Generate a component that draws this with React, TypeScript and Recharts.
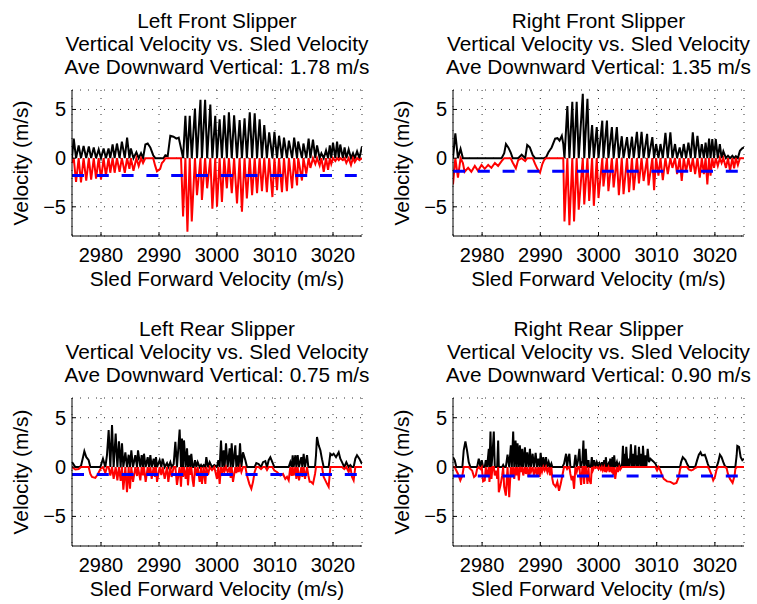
import React from 'react';
import { LineChart, Line, XAxis, YAxis, CartesianGrid, ReferenceLine } from 'recharts';

const FONT = '"Liberation Sans", Arial, Helvetica, sans-serif';
const LABEL_SIZE = 20.8;
const TICK_SIZE = 20;

// Axis ticks shared by all four slipper panels
const speedTicks = [2980, 2990, 3000, 3010, 3020];
const velocityTicks = [-5, 0, 5];
const speedDomain: [number, number] = [2975, 3025];
const velocityDomain: [number, number] = [-8, 7];

// ---- Left front slipper ----
const leftFrontAve = 1.78;
const leftFrontSpeed = [
  2975.0, 2975.3, 2975.7, 2976.15, 2976.55, 2977.0, 2977.45, 2977.9, 2978.3, 2978.75,
  2979.15, 2979.6, 2980.0, 2980.45, 2980.85, 2981.3, 2981.6, 2982.0, 2982.35, 2982.75,
  2983.2, 2983.6, 2984.1, 2984.5, 2984.9, 2985.15, 2985.6, 2986.1, 2986.5, 2986.9,
  2987.25, 2987.65, 2988.05, 2988.5, 2989.0, 2989.35, 2989.65, 2990.2, 2990.5, 2990.8,
  2991.1, 2991.5, 2991.95, 2992.5, 2993.0, 2993.4, 2993.8, 2994.15, 2994.55, 2994.9,
  2995.3, 2995.65, 2996.2, 2996.55, 2997.15, 2997.4, 2997.95, 2998.3, 2998.85, 2999.2,
  2999.7, 3000.0, 3000.45, 3000.85, 3001.25, 3001.7, 3002.05, 3002.55, 3002.95, 3003.45,
  3003.9, 3004.3, 3004.75, 3005.15, 3005.65, 3006.05, 3006.5, 3006.9, 3007.35, 3007.75,
  3008.15, 3008.6, 3009.0, 3009.55, 3009.9, 3010.35, 3010.7, 3011.2, 3011.55, 3012.05,
  3012.4, 3012.95, 3013.3, 3013.8, 3014.0, 3014.65, 3014.9, 3015.4, 3015.8, 3016.1,
  3016.55, 3016.95, 3017.25, 3017.7, 3018.0, 3018.4, 3018.8, 3019.15, 3019.45, 3019.7,
  3020.0, 3020.4, 3020.7, 3021.0, 3021.25, 3021.7, 3022.0, 3022.3, 3022.7, 3023.1,
  3023.45, 3023.75, 3024.15, 3024.55, 3025.0,
];
const leftFrontVertical = [
  -0.5, 2.0, -2.45, 1.3, -2.5, 1.25, -2.3, 1.2, -2.2, 1.1,
  -2.1, 0.9, -2.2, 1.0, -1.8, 1.0, -1.5, 1.4, -1.5, 1.5,
  -1.4, 1.7, -1.5, 2.1, -1.1, 1.0, -1.3, 0.6, -0.8, 0.5,
  -0.5, 1.4, 1.5, 1.1, 0.3, -0.8, -1.35, -1.1, -0.5, -0.3,
  0.3, 0.2, 2.3, 2.2, 2.0, 2.1, 1.0, -6.0, 4.35, -7.55,
  4.35, -6.5, 5.1, -3.8, 6.0, -4.3, 6.0, -3.1, 5.5, -5.2,
  4.35, -5.0, 4.0, -4.5, 4.4, -3.1, 4.7, -3.6, 4.4, -4.65,
  3.9, -5.5, 4.1, -4.15, 4.7, -3.8, 4.6, -3.6, 4.0, -3.4,
  3.4, -3.5, 2.65, -4.0, 2.7, -3.3, 2.3, -3.5, 2.1, -3.4,
  1.8, -3.1, 2.1, -2.8, 1.7, -2.3, 1.5, -1.6, 2.0, -1.0,
  1.9, -0.6, 1.3, -0.75, 0.5, -1.4, 0.8, -1.2, 1.3, -0.6,
  1.6, -0.3, 1.7, -0.2, 1.4, -0.2, 1.1, -0.5, 0.9, -0.7,
  0.5, -0.4, 0.7, -0.2, 1.2,
];

// ---- Right front slipper ----
const rightFrontAve = 1.35;
const rightFrontSpeed = [
  2975.0, 2975.4, 2975.85, 2976.3, 2976.7, 2977.0, 2977.6, 2978.15, 2978.75, 2979.3,
  2979.9, 2980.45, 2981.05, 2981.6, 2982.2, 2982.75, 2983.35, 2983.8, 2984.1, 2984.5,
  2984.9, 2985.25, 2985.8, 2986.2, 2986.8, 2987.4, 2987.75, 2988.2, 2988.7, 2989.1,
  2989.5, 2989.95, 2990.35, 2990.65, 2991.0, 2991.4, 2991.95, 2992.55, 2992.95, 2993.3,
  2993.7, 2993.95, 2994.15, 2994.65, 2995.0, 2995.5, 2995.8, 2996.25, 2996.6, 2997.3,
  2997.55, 2998.1, 2998.4, 2998.9, 2999.2, 2999.7, 3000.0, 3000.65, 3000.85, 3001.45,
  3001.7, 3002.3, 3002.6, 3003.15, 3003.5, 3004.0, 3004.3, 3004.9, 3005.25, 3005.75,
  3006.05, 3006.6, 3006.95, 3007.4, 3007.75, 3008.35, 3008.6, 3009.25, 3009.55, 3009.9,
  3010.3, 3010.65, 3011.05, 3011.5, 3011.9, 3012.35, 3012.7, 3013.15, 3013.5, 3013.95,
  3014.3, 3014.65, 3015.05, 3015.45, 3015.85, 3016.2, 3016.6, 3017.0, 3017.4, 3017.75,
  3018.1, 3018.4, 3018.7, 3019.0, 3019.25, 3019.55, 3019.85, 3020.15, 3020.5, 3020.85,
  3021.15, 3021.45, 3021.9, 3022.25, 3022.6, 3023.0, 3023.3, 3023.6, 3023.95, 3024.3,
  3024.7, 3025.0,
];
const rightFrontVertical = [
  -2.7, 2.55, -2.0, 0.95, -0.5, -1.4, -1.0, -1.4, -0.8, -1.3,
  -0.7, -1.1, -0.7, -1.0, -0.5, -0.8, -0.3, 0.5, 1.45, 1.1,
  0.6, -0.45, -1.05, -0.2, 0.35, -0.3, 1.35, 1.1, 0.3, -0.6,
  -1.1, -1.5, -0.6, -0.2, 0.1, 0.6, 1.1, 2.0, 2.05, 1.8,
  2.3, 1.45, -6.5, 5.35, -6.9, 5.8, -6.5, 5.8, -5.3, 6.6,
  -4.75, 6.1, -4.4, 3.4, -4.9, 3.2, -4.1, 3.85, -2.9, 3.85,
  -3.4, 3.2, -3.0, 3.2, -3.8, 2.25, -3.7, 2.15, -3.5, 2.2,
  -3.3, 2.7, -2.6, 2.7, -2.35, 2.5, -2.8, 2.15, -3.3, 1.45,
  -1.8, 1.45, -2.25, 2.6, -1.65, 2.65, -1.0, 1.45, -1.65, 1.1,
  -2.35, 1.45, -1.4, 1.6, -1.4, 2.65, -1.65, 2.3, -2.0, 1.45,
  -1.65, 1.6, -2.7, 2.0, -1.8, 1.95, -1.0, 1.95, -0.8, 1.45,
  -0.5, 0.7, -1.0, 0.25, -1.3, 0.25, -1.05, 0.2, -0.7, 0.75,
  1.0, 1.1,
];

// ---- Left rear slipper ----
const leftRearAve = 0.75;
const leftRearSpeed = [
  2975.0, 2975.57, 2976.15, 2976.55, 2976.9, 2977.13, 2977.47, 2977.87, 2978.16, 2978.45,
  2979.02, 2979.43, 2979.89, 2980.34, 2980.75, 2981.03, 2981.32, 2981.61, 2981.9, 2982.18,
  2982.53, 2982.82, 2983.1, 2983.39, 2983.62, 2983.85, 2984.2, 2984.48, 2984.77, 2985.0,
  2985.23, 2985.52, 2985.92, 2986.21, 2986.38, 2986.78, 2987.01, 2987.24, 2987.41, 2987.7,
  2988.05, 2988.28, 2988.51, 2988.74, 2989.08, 2989.31, 2989.48, 2989.66, 2990.11, 2990.4,
  2990.63, 2990.98, 2991.38, 2991.61, 2991.95, 2992.18, 2992.53, 2992.82, 2993.1, 2993.56,
  2993.79, 2993.97, 2994.14, 2994.31, 2994.6, 2994.83, 2995.0, 2995.23, 2995.4, 2995.57,
  2995.8, 2995.98, 2996.21, 2996.44, 2996.67, 2997.01, 2997.24, 2997.41, 2997.7, 2997.99,
  2998.16, 2998.45, 2998.74, 2999.14, 2999.54, 3000.0, 3000.23, 3000.46, 3000.69, 3000.92,
  3001.15, 3001.32, 3001.55, 3001.84, 3002.18, 3002.36, 3002.53, 3002.76, 3003.16, 3003.33,
  3003.56, 3003.74, 3003.97, 3004.2, 3004.48, 3004.89, 3005.17, 3005.57, 3005.92, 3006.21,
  3006.49, 3006.78, 3007.18, 3007.59, 3007.93, 3008.33, 3008.62, 3008.91, 3009.2, 3009.54,
  3009.89, 3010.34, 3010.92, 3011.38, 3011.78, 3012.07, 3012.36, 3012.64, 3012.87, 3013.05,
  3013.22, 3013.51, 3013.68, 3013.91, 3014.14, 3014.54, 3014.71, 3014.94, 3015.17, 3015.52,
  3015.75, 3015.98, 3016.21, 3016.55, 3016.9, 3017.07, 3017.24, 3017.53, 3017.82, 3018.1,
  3018.39, 3018.68, 3018.97, 3019.25, 3019.54, 3019.83, 3020.11, 3020.52, 3020.98, 3021.26,
  3021.55, 3021.95, 3022.3, 3022.7, 3022.99, 3023.28, 3023.56, 3023.85, 3024.14, 3024.54,
  3025.0,
];
const leftRearVertical = [
  0.5, -0.25, -0.2, 0.1, 1.0, 1.6, 1.0, 0.7, -0.7, -1.0,
  -1.1, -0.75, -0.2, 0.85, -0.6, 1.2, 3.75, -0.85, 4.25, -1.2,
  3.4, -1.35, 2.6, -1.4, 2.4, -2.3, 1.5, -2.55, 1.25, -2.2,
  1.7, -1.5, 1.2, -0.9, 1.7, -1.35, 1.2, -0.85, 1.35, -1.5,
  1.0, -0.7, 1.2, -1.2, 0.85, -1.0, 1.0, -1.5, 0.7, -0.8,
  0.85, -1.2, 0.4, -1.5, 0.5, -1.0, 0.3, 2.55, -1.8, 3.8,
  -2.0, 2.9, -1.0, 2.7, -1.2, 1.9, -1.85, 1.2, -0.8, 1.35,
  -1.35, -2.0, 0.7, -0.85, 0.5, -1.5, 0.2, -1.7, 0.2, -1.7,
  1.0, -0.8, 0.5, -0.3, 0.2, -1.2, 0.7, -1.7, 2.7, -0.7,
  1.7, -0.4, 2.4, -0.5, 1.9, -1.1, 2.4, -1.5, 2.2, -0.6,
  1.2, -0.5, 2.4, -0.5, 1.5, 0.7, -0.85, -1.7, -2.2, -1.5,
  -0.5, 0.4, 0.3, -0.2, 0.5, 0.6, -0.3, 0.7, 1.0, 0.5,
  -0.35, -0.5, -0.85, -0.7, -1.2, -1.0, -1.35, 0.5, -0.9, 1.2,
  -0.85, 1.2, -1.2, 1.2, -1.35, 1.0, -1.0, 1.35, -1.2, 1.2,
  -0.85, -1.5, -1.5, -1.7, -0.7, 1.2, 3.05, 2.2, 1.7, 0.8,
  -1.0, -1.35, -1.7, -2.0, 1.35, 1.2, 1.35, 1.0, 1.5, 0.85,
  0.5, -0.2, 0.5, -0.5, 0.2, -1.0, -1.35, 0.85, 1.2, 0.85,
  0.3,
];

// ---- Right rear slipper ----
const rightRearAve = 0.9;
const rightRearSpeed = [
  2975.0, 2975.29, 2975.57, 2975.86, 2976.26, 2976.61, 2976.84, 2977.13, 2977.41, 2977.7,
  2977.99, 2978.28, 2978.62, 2978.91, 2979.14, 2979.43, 2979.71, 2979.94, 2980.17, 2980.46,
  2980.63, 2980.86, 2981.15, 2981.26, 2981.44, 2981.61, 2981.78, 2982.01, 2982.18, 2982.41,
  2982.59, 2982.76, 2982.87, 2983.16, 2983.45, 2983.62, 2983.79, 2984.08, 2984.37, 2984.66,
  2984.94, 2985.11, 2985.34, 2985.52, 2985.75, 2985.92, 2986.09, 2986.32, 2986.49, 2986.72,
  2986.9, 2987.07, 2987.36, 2987.53, 2987.76, 2987.99, 2988.22, 2988.39, 2988.68, 2988.91,
  2989.2, 2989.43, 2989.66, 2989.89, 2990.06, 2990.29, 2990.52, 2990.75, 2990.98, 2991.21,
  2991.44, 2991.67, 2991.9, 2992.07, 2992.24, 2992.64, 2992.93, 2993.22, 2993.51, 2993.79,
  2994.08, 2994.43, 2994.6, 2994.83, 2995.0, 2995.17, 2995.4, 2995.57, 2995.8, 2996.03,
  2996.26, 2996.49, 2996.72, 2996.9, 2997.01, 2997.24, 2997.41, 2997.53, 2997.64, 2997.82,
  2997.99, 2998.1, 2998.28, 2998.39, 2998.68, 2998.85, 2999.02, 2999.25, 2999.48, 2999.71,
  3000.0, 3000.17, 3000.4, 3000.57, 3000.75, 3000.98, 3001.15, 3001.26, 3001.44, 3001.72,
  3001.9, 3002.01, 3002.24, 3002.41, 3002.55, 3002.7, 3002.87, 3003.16, 3003.33, 3003.56,
  3003.74, 3004.02, 3004.2, 3004.37, 3004.48, 3004.66, 3004.77, 3005.0, 3005.17, 3005.34,
  3005.57, 3005.75, 3005.92, 3006.09, 3006.32, 3006.49, 3006.61, 3006.78, 3006.95, 3007.18,
  3007.36, 3007.53, 3007.64, 3007.87, 3008.05, 3008.22, 3008.45, 3008.68, 3008.91, 3009.37,
  3009.77, 3010.06, 3010.34, 3010.63, 3010.92, 3011.21, 3011.78, 3012.36, 3012.93, 3013.39,
  3013.79, 3014.02, 3014.19, 3014.48, 3014.94, 3015.23, 3015.52, 3015.92, 3016.26, 3016.61,
  3016.95, 3017.24, 3017.53, 3017.76, 3017.99, 3018.27, 3018.5, 3018.79, 3019.02, 3019.37,
  3019.71, 3020.0, 3020.29, 3020.57, 3020.86, 3021.15, 3021.44, 3021.72, 3022.01, 3022.24,
  3022.59, 3023.04, 3023.39, 3023.51, 3023.74, 3023.85, 3024.14, 3024.43, 3024.71, 3025.0,
];
const rightRearVertical = [
  1.0, 0.7, -0.35, -0.7, -1.35, -0.85, 1.7, 2.6, 1.7, 0.5,
  -0.2, -0.35, -1.0, -0.85, -0.2, 0.85, -0.2, 0.7, -1.45, -1.35,
  0.7, -1.0, 1.85, -1.5, 3.6, -1.2, 1.2, 3.6, -0.85, -0.35,
  -1.2, 2.7, -2.55, -1.85, -0.85, 0.2, -2.0, -2.9, 1.25, -3.05,
  2.2, -1.0, 3.6, -1.2, 2.7, -0.85, 2.4, -1.35, 2.2, -0.5,
  1.85, -0.85, 2.0, -0.7, 1.5, -1.0, 1.85, -0.5, 1.35, -0.85,
  1.45, -0.85, 0.85, -1.0, 1.45, -0.5, 1.0, -0.35, 1.0, -0.5,
  0.5, -0.85, 0.35, -1.2, -1.7, -2.0, -1.5, -2.4, -1.7, -0.85,
  0.35, 1.35, -0.2, 1.0, 1.35, -0.7, -1.35, -0.9, -2.2, 1.25,
  -0.5, 0.7, 1.85, -1.2, -1.8, 0.7, 2.7, -1.7, 0.4, 1.85,
  -1.0, -1.7, 0.7, -1.2, -1.7, 1.0, -0.35, 0.7, -0.1, 0.5,
  -0.2, 0.35, -0.25, 0.5, -0.35, 0.7, -0.5, 1.0, -0.35, 0.35,
  -0.5, 0.85, -0.35, 1.0, -0.8, 1.2, -1.2, 0.5, -0.5, 0.35,
  -0.25, 0.05, 2.15, 0.05, 1.35, 0.05, 2.05, 0.05, 0.85, 0.05,
  2.3, 0.05, 1.35, 0.05, 2.2, 0.05, 1.2, 0.05, 2.05, 0.05,
  1.35, 0.05, 2.15, 0.05, 1.2, 0.05, 1.85, 0.5, 0.85, 0.6,
  0.35, -0.35, 0.0, -0.35, -0.85, -1.2, -1.45, -1.5, -1.7, -1.6,
  -1.0, -0.2, 0.5, 1.0, 0.7, 0.3, -0.25, -0.35, -0.25, -0.1,
  0.7, 1.25, 1.5, 1.2, 1.2, 1.25, 0.85, 0.3, -0.2, -0.7,
  -1.35, -1.0, -0.25, 0.5, 1.25, 1.0, 0.5, 0.1, -0.1, -0.7,
  -1.2, -1.6, -0.85, -0.2, 1.2, 2.15, 2.05, 1.0, 0.7, 0.85,
];

const minus = (v: number) => String(v).replace('-', '\u2212');

const XTick = (props: any) => {
  const { x, y, payload } = props;
  return (
    <g>
      <line x1={x} y1={y} x2={x} y2={y - 4} stroke="#000" strokeWidth={1} />
      <text x={x} y={y + 26} textAnchor="middle" fontSize={TICK_SIZE} fontFamily={FONT} fill="#000">
        {payload.value}
      </text>
    </g>
  );
};

const YTick = (props: any) => {
  const { x, y, payload } = props;
  return (
    <g>
      <line x1={x} y1={y} x2={x + 4} y2={y} stroke="#000" strokeWidth={1} />
      <text x={x - 6} y={y + 7} textAnchor="end" fontSize={TICK_SIZE} fontFamily={FONT} fill="#000">
        {minus(payload.value)}
      </text>
    </g>
  );
};

type PanelProps = {
  name: string;
  speeds: number[];
  vertical: number[];
  ave: number;
  left: number;
  top: number;
  height: number;
  axisHeight: number;
  yAxisWidth: number;
  marginRight: number;
};

const CHART_W = 378;
const PLOT_TOP = 90;

function SlipperPanel(p: PanelProps) {
  // Upward motion drawn in black, downward motion in red
  const rows = p.speeds.map((s, i) => ({
    speed: s,
    up: Math.max(p.vertical[i], 0),
    down: Math.min(p.vertical[i], 0),
  }));
  const plotLeft = p.yAxisWidth;
  const plotRight = CHART_W - p.marginRight;
  const cx = (plotLeft + plotRight) / 2;
  const plotBottom = p.height - p.axisHeight;
  const cy = (PLOT_TOP + plotBottom) / 2;
  const textStyle = { fontFamily: FONT, fontSize: LABEL_SIZE, fill: '#000' };
  return (
    <div style={{ position: 'absolute', left: p.left, top: p.top, width: CHART_W, height: p.height }}>
      <LineChart
        width={CHART_W}
        height={p.height}
        data={rows}
        margin={{ top: PLOT_TOP, right: p.marginRight, bottom: 0, left: 0 }}
      >
        <CartesianGrid stroke="#333" strokeWidth={1} strokeDasharray="1 7" />
        <XAxis
          dataKey="speed"
          type="number"
          domain={speedDomain}
          ticks={speedTicks}
          interval={0}
          allowDataOverflow
          height={p.axisHeight}
          tickSize={0}
          tickMargin={0}
          tickLine={false}
          axisLine={{ stroke: '#000', strokeWidth: 1 }}
          tick={(tp: any) => <XTick {...tp} />}
        />
        <YAxis
          type="number"
          domain={velocityDomain}
          ticks={velocityTicks}
          interval={0}
          allowDataOverflow
          width={p.yAxisWidth}
          tickSize={0}
          tickMargin={0}
          tickLine={false}
          axisLine={{ stroke: '#000', strokeWidth: 1 }}
          tick={(tp: any) => <YTick {...tp} />}
        />
        <Line
          dataKey="up"
          type="linear"
          stroke="#000000"
          strokeWidth={2}
          dot={false}
          activeDot={false}
          isAnimationActive={false}
        />
        <Line
          dataKey="down"
          type="linear"
          stroke="#ff0000"
          strokeWidth={2}
          dot={false}
          activeDot={false}
          isAnimationActive={false}
        />
        <ReferenceLine y={-p.ave} stroke="#0000ff" strokeWidth={3} strokeDasharray="12 12.8" />
      </LineChart>
      <svg
        width={CHART_W}
        height={p.height}
        style={{ position: 'absolute', left: 0, top: 0, pointerEvents: 'none' }}
      >
        <text x={cx} y={28} textAnchor="middle" {...textStyle}>{p.name}</text>
        <text x={cx} y={51} textAnchor="middle" {...textStyle}>Vertical Velocity vs. Sled Velocity</text>
        <text x={cx} y={74} textAnchor="middle" {...textStyle}>
          {`Ave Downward Vertical: ${p.ave.toFixed(2)} m/s`}
        </text>
        <text x={cx} y={plotBottom + 50} textAnchor="middle" {...textStyle}>Sled Forward Velocity (m/s)</text>
        <text
          x={0}
          y={0}
          textAnchor="middle"
          transform={`translate(${plotLeft - 44}, ${cy}) rotate(-90)`}
          {...textStyle}
        >
          Velocity (m/s)
        </text>
      </svg>
    </div>
  );
}

export default function App() {
  return (
    <div style={{ position: 'absolute', left: 0, top: 0, width: 757, height: 604, background: '#fff' }}>
      <SlipperPanel
        name="Left Front Slipper"
        speeds={leftFrontSpeed}
        vertical={leftFrontVertical}
        ave={leftFrontAve}
        left={0}
        top={0}
        height={300}
        axisHeight={64}
        yAxisWidth={72}
        marginRight={16}
      />
      <SlipperPanel
        name="Right Front Slipper"
        speeds={rightFrontSpeed}
        vertical={rightFrontVertical}
        ave={rightFrontAve}
        left={378}
        top={0}
        height={300}
        axisHeight={64}
        yAxisWidth={75}
        marginRight={12}
      />
      <SlipperPanel
        name="Left Rear Slipper"
        speeds={leftRearSpeed}
        vertical={leftRearVertical}
        ave={leftRearAve}
        left={0}
        top={308}
        height={296}
        axisHeight={58}
        yAxisWidth={72}
        marginRight={16}
      />
      <SlipperPanel
        name="Right Rear Slipper"
        speeds={rightRearSpeed}
        vertical={rightRearVertical}
        ave={rightRearAve}
        left={378}
        top={308}
        height={296}
        axisHeight={58}
        yAxisWidth={75}
        marginRight={12}
      />
    </div>
  );
}
